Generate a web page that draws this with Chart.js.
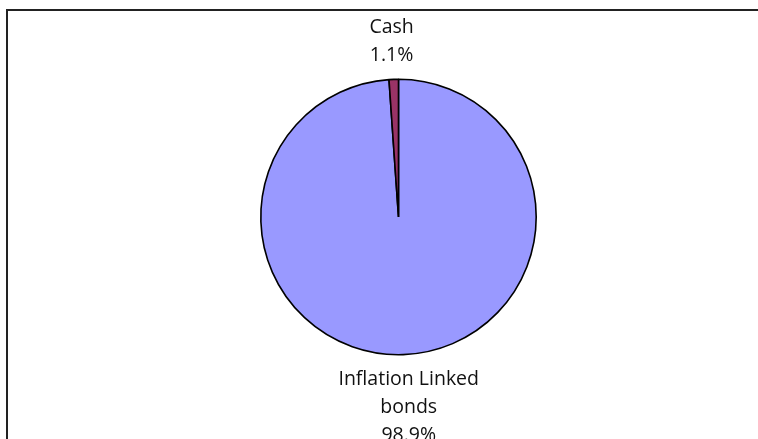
<!DOCTYPE html>
<html>
<head>
<meta charset="utf-8">
<script src="https://cdn.jsdelivr.net/npm/chart.js@4/dist/chart.umd.min.js"></script>
<style>
    html, body { margin: 0; padding: 0; background: #fff; }
    #wrap { position: relative; width: 758px; height: 439px; overflow: hidden; }
    #frame {
        position: absolute; left: 6px; top: 9px; width: 800px; height: 500px;
        border-left: 2px solid #222; border-top: 2px solid #222;
    }
    canvas { position: absolute; left: 0; top: 0; }
</style>
</head>
<body>
<div id="wrap">
    <div id="frame"></div>
    <canvas id="pieChart" width="758" height="439"></canvas>
</div>
<script>
const categories = [['Inflation Linked', 'bonds'], ['Cash']];
const values = [98.9, 1.1];
const sliceColors = ['#9999FF', '#993366'];

// labels outside each slice: category lines + percentage
const outsideLabels = {
    id: 'outsideLabels',
    afterDatasetsDraw(chart) {
        const ctx = chart.ctx;
        const meta = chart.getDatasetMeta(0);
        const lineH = 28;
        ctx.save();
        ctx.font = '19.5px "Open Sans", sans-serif';
        ctx.fillStyle = '#111';
        ctx.textAlign = 'center';
        ctx.textBaseline = 'alphabetic';
        meta.data.forEach((arc, i) => {
            const p = arc.getProps(['x', 'y', 'startAngle', 'endAngle', 'outerRadius'], true);
            const mid = (p.startAngle + p.endAngle) / 2;
            const lines = chart.data.labels[i].concat([values[i].toFixed(1) + '%']);
            const w = Math.max(...lines.map(t => ctx.measureText(t).width));
            const ax = p.x + Math.cos(mid) * (p.outerRadius + 18 + w);
            const ay = p.y + Math.sin(mid) * (p.outerRadius + 18);
            let y0;
            if (Math.sin(mid) < 0) {
                y0 = ay - (lines.length - 1) * lineH;
            } else {
                y0 = ay + 12;
            }
            lines.forEach((t, k) => ctx.fillText(t, ax, y0 + k * lineH));
        });
        ctx.restore();
    }
};

new Chart(document.getElementById('pieChart'), {
    type: 'pie',
    data: {
        labels: categories,
        datasets: [{
            data: values,
            backgroundColor: sliceColors,
            borderColor: '#000',
            borderWidth: 1.6
        }]
    },
    options: {
        responsive: false,
        animation: false,
        layout: {
            padding: { left: 260, right: 221, top: 78, bottom: 83 }
        },
        plugins: {
            legend: { display: false },
            tooltip: { enabled: false }
        }
    },
    plugins: [outsideLabels]
});
</script>
</body>
</html>
